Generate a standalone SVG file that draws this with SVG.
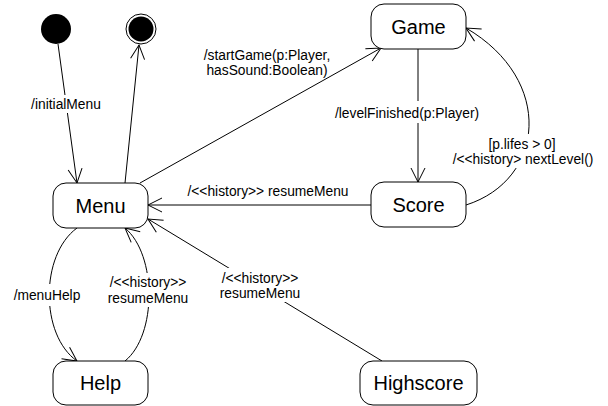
<svg xmlns="http://www.w3.org/2000/svg" width="608" height="406" viewBox="0 0 608 406">
  <style>
    .state { fill: #fff; stroke: #000; stroke-width: 1; }
    .name { font-family: "Liberation Sans", Arial, sans-serif; font-size: 20px; fill: #000; text-anchor: middle; }
    .edge { fill: none; stroke: #000; stroke-width: 1; marker-end: url(#open); }
    .lbl { font-family: "Liberation Sans", Arial, sans-serif; font-size: 13.8px; fill: #000; text-anchor: middle; }
    .gap { fill: #fff; }
  </style>
  <defs>
    <marker id="open" markerUnits="userSpaceOnUse" viewBox="-16 -9 18 18" markerWidth="18" markerHeight="18" refX="0" refY="0" orient="auto">
      <path d="M-14,-7 L0,0 L-14,7" fill="none" stroke="#000" stroke-width="1"/>
    </marker>
  </defs>
  <rect width="608" height="406" fill="#fff"/>

  <!-- transitions -->
  <g id="connectors">
    <path class="edge" d="M58,44 L77,183"/>
    <path class="edge" d="M125,183 L139,45"/>
    <path class="edge" d="M140,183 L381,48"/>
    <path class="edge" d="M418,49 L418,182"/>
    <path class="edge" d="M466,205 C545,180 555,80 466,28"/>
    <path class="edge" d="M371,205 L148,205"/>
    <path class="edge" d="M382,361 L148,219"/>
    <path class="edge" d="M77,228 C40,255 40,335 77,361"/>
    <path class="edge" d="M125,361 C157,335 157,255 125,228"/>
  </g>

  <!-- transition labels -->
  <g id="labels">
    <rect class="gap" x="29" y="95" width="74" height="18"/>
    <text class="lbl" x="66" y="109">/initialMenu</text>

    <text class="lbl" x="267" y="60">/startGame(p:Player,</text>
    <text class="lbl" x="267" y="75">hasSound:Boolean)</text>

    <rect class="gap" x="334" y="101" width="146" height="22"/>
    <text class="lbl" x="407" y="118">/levelFinished(p:Player)</text>

    <rect class="gap" x="454" y="134" width="138" height="34"/>
    <text class="lbl" x="522" y="149">[p.lifes &gt; 0]</text>
    <text class="lbl" x="523" y="164">/&lt;&lt;history&gt; nextLevel()</text>

    <text class="lbl" x="268" y="196">/&lt;&lt;history&gt;&gt; resumeMenu</text>

    <rect class="gap" x="220" y="268" width="80" height="34"/>
    <text class="lbl" x="260" y="283">/&lt;&lt;history&gt;&gt;</text>
    <text class="lbl" x="260" y="298">resumeMenu</text>

    <rect class="gap" x="12" y="284" width="70" height="22"/>
    <text class="lbl" x="47" y="300">/menuHelp</text>

    <rect class="gap" x="108" y="273" width="82" height="34"/>
    <text class="lbl" x="148" y="287">/&lt;&lt;history&gt;&gt;</text>
    <text class="lbl" x="148" y="303">resumeMenu</text>
  </g>

  <g id="initial">
    <circle cx="56" cy="29" r="15" fill="#000"/>
  </g>
  <g id="final">
    <circle cx="141" cy="29" r="15" fill="#fff" stroke="#000" stroke-width="1"/>
    <circle cx="141" cy="29" r="12.5" fill="#000"/>
  </g>
  <g id="menu">
    <rect class="state" x="53" y="183" width="95" height="45" rx="13"/>
    <text class="name" x="100.5" y="212.5">Menu</text>
  </g>
  <g id="help">
    <rect class="state" x="53" y="361" width="95" height="44" rx="13"/>
    <text class="name" x="100.5" y="390">Help</text>
  </g>
  <g id="game">
    <rect class="state" x="371" y="4" width="95" height="45" rx="13"/>
    <text class="name" x="418.5" y="33.5">Game</text>
  </g>
  <g id="score">
    <rect class="state" x="371" y="182" width="95" height="45" rx="13"/>
    <text class="name" x="418.5" y="211.5">Score</text>
  </g>
  <g id="highscore">
    <rect class="state" x="360" y="361" width="117" height="44" rx="13"/>
    <text class="name" x="418.5" y="390">Highscore</text>
  </g>
</svg>
